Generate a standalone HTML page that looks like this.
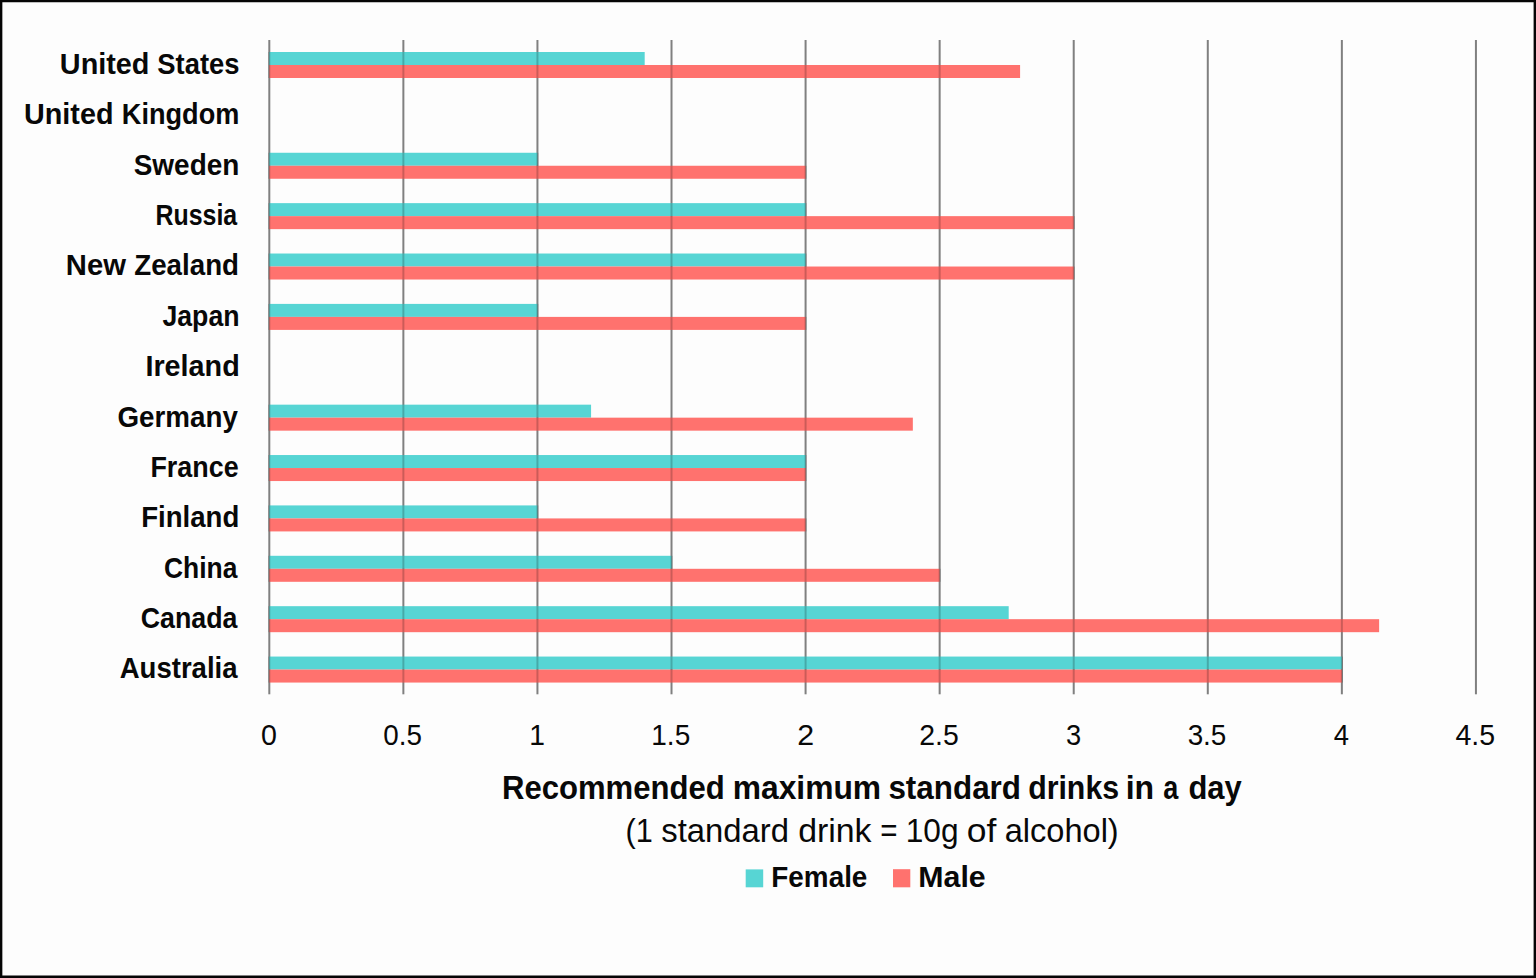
<!DOCTYPE html>
<html><head><meta charset="utf-8"><style>
html,body{margin:0;padding:0;width:1536px;height:978px;overflow:hidden;background:#fdfdfd;}
svg{display:block;}
.b{font-family:"Liberation Sans",sans-serif;font-weight:bold;fill:#080808;}
.r{font-family:"Liberation Sans",sans-serif;fill:#080808;}
</style></head><body>
<svg width="1536" height="978" viewBox="0 0 1536 978">
<rect x="0" y="0" width="1536" height="978" fill="#fdfdfd"/>
<rect x="268.30" y="40" width="2.0" height="654.3" fill="#808080"/>
<rect x="402.37" y="40" width="2.0" height="654.3" fill="#808080"/>
<rect x="536.44" y="40" width="2.0" height="654.3" fill="#808080"/>
<rect x="670.51" y="40" width="2.0" height="654.3" fill="#808080"/>
<rect x="804.58" y="40" width="2.0" height="654.3" fill="#808080"/>
<rect x="938.65" y="40" width="2.0" height="654.3" fill="#808080"/>
<rect x="1072.72" y="40" width="2.0" height="654.3" fill="#808080"/>
<rect x="1206.79" y="40" width="2.0" height="654.3" fill="#808080"/>
<rect x="1340.86" y="40" width="2.0" height="654.3" fill="#808080"/>
<rect x="1474.93" y="40" width="2.0" height="654.3" fill="#808080"/>
<rect x="269.30" y="52.00" width="375.40" height="13.0" fill="#57d5d4"/>
<rect x="269.30" y="65.00" width="750.79" height="13.0" fill="#ff726e"/>
<rect x="269.30" y="152.76" width="268.14" height="13.0" fill="#57d5d4"/>
<rect x="269.30" y="165.76" width="536.28" height="13.0" fill="#ff726e"/>
<rect x="269.30" y="203.14" width="536.28" height="13.0" fill="#57d5d4"/>
<rect x="269.30" y="216.14" width="804.42" height="13.0" fill="#ff726e"/>
<rect x="269.30" y="253.52" width="536.28" height="13.0" fill="#57d5d4"/>
<rect x="269.30" y="266.52" width="804.42" height="13.0" fill="#ff726e"/>
<rect x="269.30" y="303.90" width="268.14" height="13.0" fill="#57d5d4"/>
<rect x="269.30" y="316.90" width="536.28" height="13.0" fill="#ff726e"/>
<rect x="269.30" y="404.66" width="321.77" height="13.0" fill="#57d5d4"/>
<rect x="269.30" y="417.66" width="643.54" height="13.0" fill="#ff726e"/>
<rect x="269.30" y="455.04" width="536.28" height="13.0" fill="#57d5d4"/>
<rect x="269.30" y="468.04" width="536.28" height="13.0" fill="#ff726e"/>
<rect x="269.30" y="505.42" width="268.14" height="13.0" fill="#57d5d4"/>
<rect x="269.30" y="518.42" width="536.28" height="13.0" fill="#ff726e"/>
<rect x="269.30" y="555.80" width="402.21" height="13.0" fill="#57d5d4"/>
<rect x="269.30" y="568.80" width="670.35" height="13.0" fill="#ff726e"/>
<rect x="269.30" y="606.18" width="739.40" height="13.0" fill="#57d5d4"/>
<rect x="269.30" y="619.18" width="1109.83" height="13.0" fill="#ff726e"/>
<rect x="269.30" y="656.56" width="1072.56" height="13.0" fill="#57d5d4"/>
<rect x="269.30" y="669.56" width="1072.56" height="13.0" fill="#ff726e"/>
<rect x="268.30" y="52.00" width="2" height="13.0" fill="#000" fill-opacity="0.2"/>
<rect x="268.30" y="65.00" width="2" height="13.0" fill="#000" fill-opacity="0.2"/>
<rect x="402.37" y="52.00" width="2" height="13.0" fill="#000" fill-opacity="0.2"/>
<rect x="402.37" y="65.00" width="2" height="13.0" fill="#000" fill-opacity="0.2"/>
<rect x="536.44" y="52.00" width="2" height="13.0" fill="#000" fill-opacity="0.2"/>
<rect x="536.44" y="65.00" width="2" height="13.0" fill="#000" fill-opacity="0.2"/>
<rect x="670.51" y="65.00" width="2" height="13.0" fill="#000" fill-opacity="0.2"/>
<rect x="804.58" y="65.00" width="2" height="13.0" fill="#000" fill-opacity="0.2"/>
<rect x="938.65" y="65.00" width="2" height="13.0" fill="#000" fill-opacity="0.2"/>
<rect x="268.30" y="152.76" width="2" height="13.0" fill="#000" fill-opacity="0.2"/>
<rect x="268.30" y="165.76" width="2" height="13.0" fill="#000" fill-opacity="0.2"/>
<rect x="402.37" y="152.76" width="2" height="13.0" fill="#000" fill-opacity="0.2"/>
<rect x="402.37" y="165.76" width="2" height="13.0" fill="#000" fill-opacity="0.2"/>
<rect x="536.44" y="152.76" width="2" height="13.0" fill="#000" fill-opacity="0.2"/>
<rect x="536.44" y="165.76" width="2" height="13.0" fill="#000" fill-opacity="0.2"/>
<rect x="670.51" y="165.76" width="2" height="13.0" fill="#000" fill-opacity="0.2"/>
<rect x="804.58" y="165.76" width="2" height="13.0" fill="#000" fill-opacity="0.2"/>
<rect x="268.30" y="203.14" width="2" height="13.0" fill="#000" fill-opacity="0.2"/>
<rect x="268.30" y="216.14" width="2" height="13.0" fill="#000" fill-opacity="0.2"/>
<rect x="402.37" y="203.14" width="2" height="13.0" fill="#000" fill-opacity="0.2"/>
<rect x="402.37" y="216.14" width="2" height="13.0" fill="#000" fill-opacity="0.2"/>
<rect x="536.44" y="203.14" width="2" height="13.0" fill="#000" fill-opacity="0.2"/>
<rect x="536.44" y="216.14" width="2" height="13.0" fill="#000" fill-opacity="0.2"/>
<rect x="670.51" y="203.14" width="2" height="13.0" fill="#000" fill-opacity="0.2"/>
<rect x="670.51" y="216.14" width="2" height="13.0" fill="#000" fill-opacity="0.2"/>
<rect x="804.58" y="203.14" width="2" height="13.0" fill="#000" fill-opacity="0.2"/>
<rect x="804.58" y="216.14" width="2" height="13.0" fill="#000" fill-opacity="0.2"/>
<rect x="938.65" y="216.14" width="2" height="13.0" fill="#000" fill-opacity="0.2"/>
<rect x="1072.72" y="216.14" width="2" height="13.0" fill="#000" fill-opacity="0.2"/>
<rect x="268.30" y="253.52" width="2" height="13.0" fill="#000" fill-opacity="0.2"/>
<rect x="268.30" y="266.52" width="2" height="13.0" fill="#000" fill-opacity="0.2"/>
<rect x="402.37" y="253.52" width="2" height="13.0" fill="#000" fill-opacity="0.2"/>
<rect x="402.37" y="266.52" width="2" height="13.0" fill="#000" fill-opacity="0.2"/>
<rect x="536.44" y="253.52" width="2" height="13.0" fill="#000" fill-opacity="0.2"/>
<rect x="536.44" y="266.52" width="2" height="13.0" fill="#000" fill-opacity="0.2"/>
<rect x="670.51" y="253.52" width="2" height="13.0" fill="#000" fill-opacity="0.2"/>
<rect x="670.51" y="266.52" width="2" height="13.0" fill="#000" fill-opacity="0.2"/>
<rect x="804.58" y="253.52" width="2" height="13.0" fill="#000" fill-opacity="0.2"/>
<rect x="804.58" y="266.52" width="2" height="13.0" fill="#000" fill-opacity="0.2"/>
<rect x="938.65" y="266.52" width="2" height="13.0" fill="#000" fill-opacity="0.2"/>
<rect x="1072.72" y="266.52" width="2" height="13.0" fill="#000" fill-opacity="0.2"/>
<rect x="268.30" y="303.90" width="2" height="13.0" fill="#000" fill-opacity="0.2"/>
<rect x="268.30" y="316.90" width="2" height="13.0" fill="#000" fill-opacity="0.2"/>
<rect x="402.37" y="303.90" width="2" height="13.0" fill="#000" fill-opacity="0.2"/>
<rect x="402.37" y="316.90" width="2" height="13.0" fill="#000" fill-opacity="0.2"/>
<rect x="536.44" y="303.90" width="2" height="13.0" fill="#000" fill-opacity="0.2"/>
<rect x="536.44" y="316.90" width="2" height="13.0" fill="#000" fill-opacity="0.2"/>
<rect x="670.51" y="316.90" width="2" height="13.0" fill="#000" fill-opacity="0.2"/>
<rect x="804.58" y="316.90" width="2" height="13.0" fill="#000" fill-opacity="0.2"/>
<rect x="268.30" y="404.66" width="2" height="13.0" fill="#000" fill-opacity="0.2"/>
<rect x="268.30" y="417.66" width="2" height="13.0" fill="#000" fill-opacity="0.2"/>
<rect x="402.37" y="404.66" width="2" height="13.0" fill="#000" fill-opacity="0.2"/>
<rect x="402.37" y="417.66" width="2" height="13.0" fill="#000" fill-opacity="0.2"/>
<rect x="536.44" y="404.66" width="2" height="13.0" fill="#000" fill-opacity="0.2"/>
<rect x="536.44" y="417.66" width="2" height="13.0" fill="#000" fill-opacity="0.2"/>
<rect x="670.51" y="417.66" width="2" height="13.0" fill="#000" fill-opacity="0.2"/>
<rect x="804.58" y="417.66" width="2" height="13.0" fill="#000" fill-opacity="0.2"/>
<rect x="268.30" y="455.04" width="2" height="13.0" fill="#000" fill-opacity="0.2"/>
<rect x="268.30" y="468.04" width="2" height="13.0" fill="#000" fill-opacity="0.2"/>
<rect x="402.37" y="455.04" width="2" height="13.0" fill="#000" fill-opacity="0.2"/>
<rect x="402.37" y="468.04" width="2" height="13.0" fill="#000" fill-opacity="0.2"/>
<rect x="536.44" y="455.04" width="2" height="13.0" fill="#000" fill-opacity="0.2"/>
<rect x="536.44" y="468.04" width="2" height="13.0" fill="#000" fill-opacity="0.2"/>
<rect x="670.51" y="455.04" width="2" height="13.0" fill="#000" fill-opacity="0.2"/>
<rect x="670.51" y="468.04" width="2" height="13.0" fill="#000" fill-opacity="0.2"/>
<rect x="804.58" y="455.04" width="2" height="13.0" fill="#000" fill-opacity="0.2"/>
<rect x="804.58" y="468.04" width="2" height="13.0" fill="#000" fill-opacity="0.2"/>
<rect x="268.30" y="505.42" width="2" height="13.0" fill="#000" fill-opacity="0.2"/>
<rect x="268.30" y="518.42" width="2" height="13.0" fill="#000" fill-opacity="0.2"/>
<rect x="402.37" y="505.42" width="2" height="13.0" fill="#000" fill-opacity="0.2"/>
<rect x="402.37" y="518.42" width="2" height="13.0" fill="#000" fill-opacity="0.2"/>
<rect x="536.44" y="505.42" width="2" height="13.0" fill="#000" fill-opacity="0.2"/>
<rect x="536.44" y="518.42" width="2" height="13.0" fill="#000" fill-opacity="0.2"/>
<rect x="670.51" y="518.42" width="2" height="13.0" fill="#000" fill-opacity="0.2"/>
<rect x="804.58" y="518.42" width="2" height="13.0" fill="#000" fill-opacity="0.2"/>
<rect x="268.30" y="555.80" width="2" height="13.0" fill="#000" fill-opacity="0.2"/>
<rect x="268.30" y="568.80" width="2" height="13.0" fill="#000" fill-opacity="0.2"/>
<rect x="402.37" y="555.80" width="2" height="13.0" fill="#000" fill-opacity="0.2"/>
<rect x="402.37" y="568.80" width="2" height="13.0" fill="#000" fill-opacity="0.2"/>
<rect x="536.44" y="555.80" width="2" height="13.0" fill="#000" fill-opacity="0.2"/>
<rect x="536.44" y="568.80" width="2" height="13.0" fill="#000" fill-opacity="0.2"/>
<rect x="670.51" y="555.80" width="2" height="13.0" fill="#000" fill-opacity="0.2"/>
<rect x="670.51" y="568.80" width="2" height="13.0" fill="#000" fill-opacity="0.2"/>
<rect x="804.58" y="568.80" width="2" height="13.0" fill="#000" fill-opacity="0.2"/>
<rect x="938.65" y="568.80" width="2" height="13.0" fill="#000" fill-opacity="0.2"/>
<rect x="268.30" y="606.18" width="2" height="13.0" fill="#000" fill-opacity="0.2"/>
<rect x="268.30" y="619.18" width="2" height="13.0" fill="#000" fill-opacity="0.2"/>
<rect x="402.37" y="606.18" width="2" height="13.0" fill="#000" fill-opacity="0.2"/>
<rect x="402.37" y="619.18" width="2" height="13.0" fill="#000" fill-opacity="0.2"/>
<rect x="536.44" y="606.18" width="2" height="13.0" fill="#000" fill-opacity="0.2"/>
<rect x="536.44" y="619.18" width="2" height="13.0" fill="#000" fill-opacity="0.2"/>
<rect x="670.51" y="606.18" width="2" height="13.0" fill="#000" fill-opacity="0.2"/>
<rect x="670.51" y="619.18" width="2" height="13.0" fill="#000" fill-opacity="0.2"/>
<rect x="804.58" y="606.18" width="2" height="13.0" fill="#000" fill-opacity="0.2"/>
<rect x="804.58" y="619.18" width="2" height="13.0" fill="#000" fill-opacity="0.2"/>
<rect x="938.65" y="606.18" width="2" height="13.0" fill="#000" fill-opacity="0.2"/>
<rect x="938.65" y="619.18" width="2" height="13.0" fill="#000" fill-opacity="0.2"/>
<rect x="1072.72" y="619.18" width="2" height="13.0" fill="#000" fill-opacity="0.2"/>
<rect x="1206.79" y="619.18" width="2" height="13.0" fill="#000" fill-opacity="0.2"/>
<rect x="1340.86" y="619.18" width="2" height="13.0" fill="#000" fill-opacity="0.2"/>
<rect x="268.30" y="656.56" width="2" height="13.0" fill="#000" fill-opacity="0.2"/>
<rect x="268.30" y="669.56" width="2" height="13.0" fill="#000" fill-opacity="0.2"/>
<rect x="402.37" y="656.56" width="2" height="13.0" fill="#000" fill-opacity="0.2"/>
<rect x="402.37" y="669.56" width="2" height="13.0" fill="#000" fill-opacity="0.2"/>
<rect x="536.44" y="656.56" width="2" height="13.0" fill="#000" fill-opacity="0.2"/>
<rect x="536.44" y="669.56" width="2" height="13.0" fill="#000" fill-opacity="0.2"/>
<rect x="670.51" y="656.56" width="2" height="13.0" fill="#000" fill-opacity="0.2"/>
<rect x="670.51" y="669.56" width="2" height="13.0" fill="#000" fill-opacity="0.2"/>
<rect x="804.58" y="656.56" width="2" height="13.0" fill="#000" fill-opacity="0.2"/>
<rect x="804.58" y="669.56" width="2" height="13.0" fill="#000" fill-opacity="0.2"/>
<rect x="938.65" y="656.56" width="2" height="13.0" fill="#000" fill-opacity="0.2"/>
<rect x="938.65" y="669.56" width="2" height="13.0" fill="#000" fill-opacity="0.2"/>
<rect x="1072.72" y="656.56" width="2" height="13.0" fill="#000" fill-opacity="0.2"/>
<rect x="1072.72" y="669.56" width="2" height="13.0" fill="#000" fill-opacity="0.2"/>
<rect x="1206.79" y="656.56" width="2" height="13.0" fill="#000" fill-opacity="0.2"/>
<rect x="1206.79" y="669.56" width="2" height="13.0" fill="#000" fill-opacity="0.2"/>
<rect x="1340.86" y="656.56" width="2" height="13.0" fill="#000" fill-opacity="0.2"/>
<rect x="1340.86" y="669.56" width="2" height="13.0" fill="#000" fill-opacity="0.2"/>
<text x="59.85" y="73.90" textLength="89.61" lengthAdjust="spacingAndGlyphs" class="b" font-size="28.9">United</text>
<text x="157.30" y="73.90" textLength="82.22" lengthAdjust="spacingAndGlyphs" class="b" font-size="28.9">States</text>
<text x="24.02" y="124.28" textLength="89.42" lengthAdjust="spacingAndGlyphs" class="b" font-size="28.9">United</text>
<text x="121.82" y="124.28" textLength="117.53" lengthAdjust="spacingAndGlyphs" class="b" font-size="28.9">Kingdom</text>
<text x="133.72" y="174.66" textLength="105.69" lengthAdjust="spacingAndGlyphs" class="b" font-size="28.9">Sweden</text>
<text x="155.53" y="225.04" textLength="81.69" lengthAdjust="spacingAndGlyphs" class="b" font-size="28.9">Russia</text>
<text x="65.80" y="275.42" textLength="60.11" lengthAdjust="spacingAndGlyphs" class="b" font-size="28.9">New</text>
<text x="134.22" y="275.42" textLength="104.82" lengthAdjust="spacingAndGlyphs" class="b" font-size="28.9">Zealand</text>
<text x="162.44" y="325.80" textLength="77.06" lengthAdjust="spacingAndGlyphs" class="b" font-size="28.9">Japan</text>
<text x="145.42" y="376.18" textLength="94.35" lengthAdjust="spacingAndGlyphs" class="b" font-size="28.9">Ireland</text>
<text x="117.46" y="426.56" textLength="120.41" lengthAdjust="spacingAndGlyphs" class="b" font-size="28.9">Germany</text>
<text x="150.45" y="476.94" textLength="88.19" lengthAdjust="spacingAndGlyphs" class="b" font-size="28.9">France</text>
<text x="141.20" y="527.32" textLength="98.08" lengthAdjust="spacingAndGlyphs" class="b" font-size="28.9">Finland</text>
<text x="164.02" y="577.70" textLength="73.35" lengthAdjust="spacingAndGlyphs" class="b" font-size="28.9">China</text>
<text x="140.73" y="628.08" textLength="96.75" lengthAdjust="spacingAndGlyphs" class="b" font-size="28.9">Canada</text>
<text x="119.69" y="678.46" textLength="117.89" lengthAdjust="spacingAndGlyphs" class="b" font-size="28.9">Australia</text>
<text x="502.08" y="798.90" textLength="222.60" lengthAdjust="spacingAndGlyphs" class="b" font-size="33.0">Recommended</text>
<text x="732.75" y="798.90" textLength="148.31" lengthAdjust="spacingAndGlyphs" class="b" font-size="33.0">maximum</text>
<text x="888.41" y="798.90" textLength="132.61" lengthAdjust="spacingAndGlyphs" class="b" font-size="33.0">standard</text>
<text x="1028.15" y="798.90" textLength="90.96" lengthAdjust="spacingAndGlyphs" class="b" font-size="33.0">drinks</text>
<text x="1125.64" y="798.90" textLength="28.45" lengthAdjust="spacingAndGlyphs" class="b" font-size="33.0">in</text>
<text x="1163.18" y="798.90" textLength="15.05" lengthAdjust="spacingAndGlyphs" class="b" font-size="33.0">a</text>
<text x="1188.48" y="798.90" textLength="53.32" lengthAdjust="spacingAndGlyphs" class="b" font-size="33.0">day</text>
<text x="625.58" y="842.10" textLength="27.25" lengthAdjust="spacingAndGlyphs" class="r" font-size="33.6">(1</text>
<text x="661.28" y="842.10" textLength="127.71" lengthAdjust="spacingAndGlyphs" class="r" font-size="33.6">standard</text>
<text x="798.17" y="842.10" textLength="73.40" lengthAdjust="spacingAndGlyphs" class="r" font-size="33.6">drink</text>
<text x="880.23" y="842.10" textLength="17.26" lengthAdjust="spacingAndGlyphs" class="r" font-size="33.6">=</text>
<text x="905.76" y="842.10" textLength="52.86" lengthAdjust="spacingAndGlyphs" class="r" font-size="33.6">10g</text>
<text x="966.78" y="842.10" textLength="29.60" lengthAdjust="spacingAndGlyphs" class="r" font-size="33.6">of</text>
<text x="1004.69" y="842.10" textLength="114.03" lengthAdjust="spacingAndGlyphs" class="r" font-size="33.6">alcohol)</text>
<text x="260.89" y="745.30" textLength="15.92" lengthAdjust="spacingAndGlyphs" class="r" font-size="29.6">0</text>
<text x="383.29" y="745.30" textLength="38.63" lengthAdjust="spacingAndGlyphs" class="r" font-size="29.6">0.5</text>
<text x="529.22" y="745.30" textLength="15.72" lengthAdjust="spacingAndGlyphs" class="r" font-size="29.6">1</text>
<text x="651.29" y="745.30" textLength="38.94" lengthAdjust="spacingAndGlyphs" class="r" font-size="29.6">1.5</text>
<text x="797.29" y="745.30" textLength="16.88" lengthAdjust="spacingAndGlyphs" class="r" font-size="29.6">2</text>
<text x="919.28" y="745.30" textLength="39.44" lengthAdjust="spacingAndGlyphs" class="r" font-size="29.6">2.5</text>
<text x="1065.89" y="745.30" textLength="15.19" lengthAdjust="spacingAndGlyphs" class="r" font-size="29.6">3</text>
<text x="1187.63" y="745.30" textLength="38.73" lengthAdjust="spacingAndGlyphs" class="r" font-size="29.6">3.5</text>
<text x="1333.86" y="745.30" textLength="15.25" lengthAdjust="spacingAndGlyphs" class="r" font-size="29.6">4</text>
<text x="1455.42" y="745.30" textLength="39.60" lengthAdjust="spacingAndGlyphs" class="r" font-size="29.6">4.5</text>
<text x="771.36" y="887.30" textLength="96.01" lengthAdjust="spacingAndGlyphs" class="b" font-size="28.9">Female</text>
<text x="918.29" y="887.30" textLength="67.38" lengthAdjust="spacingAndGlyphs" class="b" font-size="28.9">Male</text>
<rect x="745.7" y="869.4" width="17.5" height="17.9" fill="#57d5d4"/>
<rect x="893.0" y="869.2" width="17.3" height="18.1" fill="#ff726e"/>
<path d="M0 0H1536V978H0Z M2.35 2.15V975.6H1533.6V2.15Z" fill="#050505" fill-rule="evenodd"/>
</svg>
</body></html>
